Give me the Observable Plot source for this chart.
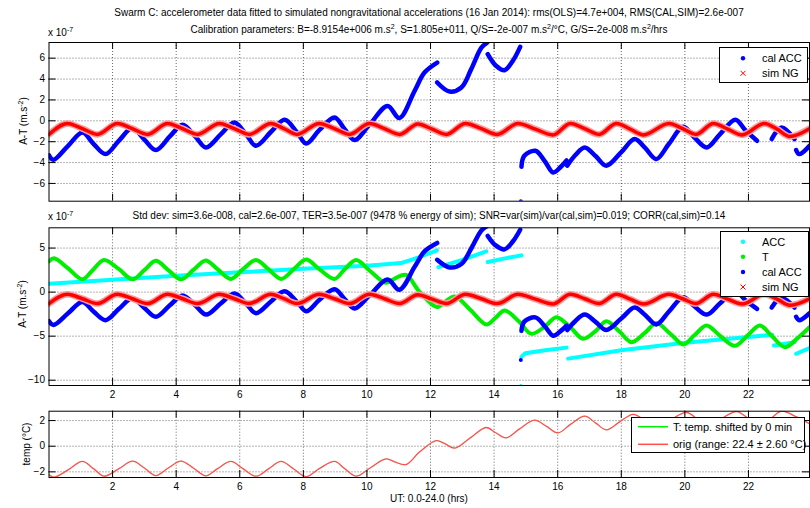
<!DOCTYPE html>
<html><head><meta charset="utf-8">
<script src="https://cdn.jsdelivr.net/npm/d3@7"></script>
<script src="https://cdn.jsdelivr.net/npm/@observablehq/plot@0.6"></script>
<style>
body{margin:0;background:#fff;}
#c{position:relative;width:810px;height:508px;background:#fff;overflow:hidden;}
#c svg{position:absolute;left:0;top:0;}
</style></head><body><div id="c"></div>
<script>
// ---------- tick labels ----------
const xTicks = [2,4,6,8,10,12,14,16,18,20,22];
const yTicksTop = [-6,-4,-2,0,2,4,6];
const yTicksMid = [-10,-5,0,5];
const yTicksBot = [-2,0,2];

// ---------- cal ACC (units 1e-7 m.s^-2) ----------
const calT = [0,0.14,0.6,1.05,1.4,1.78,2.2,2.62,3.0,3.36,3.8,4.2,4.6,4.94,5.4,5.83,6.2,6.51,7.0,7.41,7.8,8.09,8.5,8.98,9.3,9.61,10.1,10.65,11.02,11.5,11.81,12.21,
  12.21,12.6,12.97,13.28,13.6,13.78,
  13.8,14.05,14.33,14.6,14.82,
  14.86,14.95,15.3,15.6,15.86,16.1,16.28,
  16.3,16.55,16.85,17.2,17.53,18.0,18.42,18.75,19.1,19.5,19.95,20.3,20.69,21.1,21.59,21.9,22.27,
  22.73,23.04,23.45,
  23.5,23.6,23.92];
const calV = [-3.3,-3.73,-2.4,-1.12,-2.2,-3.19,-1.9,-0.7,-1.8,-2.8,-1.5,-0.38,-1.5,-2.55,-1.3,-0.16,-1.3,-2.39,-1.0,0.1,-1.1,-2.17,-0.9,0.32,-0.8,-1.85,-0.3,1.43,0.26,2.87,4.62,5.58,
  3.67,2.8,3.19,4.95,7.0,7.49,
  6.38,5.3,4.85,5.8,7.08,
  -4.4,-3.35,-2.87,-3.9,-4.95,-4.4,-3.8,
  -4.3,-3.3,-2.55,-3.4,-4.3,-3.0,-1.75,-2.6,-3.67,-2.2,-0.57,-1.6,-2.55,-1.3,0.1,-0.9,-1.91,
  -1.75,-0.64,-1.75,
  -2.8,-3.19,-2.4];
const calSeg = [0,0,0,0,0,0,0,0,0,0,0,0,0,0,0,0,0,0,0,0,0,0,0,0,0,0,0,0,0,0,0,0,
  1,1,1,1,1,1, 2,2,2,2,2, 3,3,3,3,3,3,3,
  4,4,4,4,4,4,4,4,4,4,4,4,4,4,4,4,4, 5,5,5, 6,6,6];
const calOutT = [14.84], calOutV = [-7.7];

// ---------- sim NG ----------
const simT = [0,0.58,1.05,1.52,2.15,2.62,3.1,3.73,4.2,4.67,5.36,5.83,6.3,6.98,7.39,7.8,8.5,8.98,9.45,10.08,10.55,11.03,11.6,12.05,12.5,13.1,13.6,14.1,14.75,15.3,15.85,16.4,16.85,17.3,17.85,18.28,18.7,19.5,19.93,20.35,20.9,21.35,21.8,22.5,22.9,23.3,23.92];
const simV = [-1.3,-0.25,-0.75,-1.3,-0.25,-0.75,-1.3,-0.25,-0.75,-1.3,-0.25,-0.75,-1.3,-0.25,-0.75,-1.3,-0.25,-0.75,-1.3,-0.25,-0.75,-1.3,-0.3,-0.8,-1.3,-0.25,-0.75,-1.3,-0.25,-0.8,-1.35,-0.25,-0.75,-1.3,-0.25,-0.8,-1.35,-0.25,-0.75,-1.3,-0.25,-0.8,-1.35,-0.25,-0.8,-1.5,-0.75];

// ---------- ACC (cyan) ----------
const accT = [0,2,4,6,8,10,11.07,11.6,12.2, 12.25,13.0,13.75, 13.8,14.3,14.86, 14.86,14.98,15.6,16.28, 16.33,18,20,22,22.75, 22.8,23.45, 23.5,23.92];
const accV = [0.95,1.4,1.85,2.25,2.65,3.0,3.3,3.9,4.75, 2.84,3.65,4.62, 3.41,3.8,4.17, -7.35,-6.95,-6.6,-6.3, -7.55,-6.6,-5.75,-5.1,-4.85, -6.05,-5.7, -7.0,-6.35];
const accSeg = [0,0,0,0,0,0,0,0,0, 1,1,1, 2,2,2, 3,3,3,3, 4,4,4,4,4, 5,5, 6,6];
const accOutT = [14.84], accOutV = [-10.6];

// ---------- T (green, units 1e-7) ----------
const tT = [0,0.16,0.6,1.05,1.4,1.73,2.2,2.63,3.0,3.36,3.75,4.15,4.55,4.93,5.3,5.72,6.1,6.51,6.9,7.3,7.7,8.09,8.5,8.98,9.3,9.66,10.1,10.6,10.9,11.23,11.65,12.2,12.45,12.76,13.25,13.76,14.05,14.33,14.8,15.17,15.6,15.96,16.4,16.8,17.2,17.53,17.95,18.32,18.75,19.1,19.55,19.95,20.3,20.68,21.1,21.57,21.95,22.36,22.75,23.15,23.55,23.92];
const tV = [3.5,3.85,2.7,1.45,2.6,3.65,2.6,1.45,2.5,3.55,2.5,1.45,2.55,3.6,2.6,1.5,2.6,3.65,2.6,1.5,2.6,3.7,2.6,1.5,2.6,3.65,2.4,1.05,1.6,1.95,0.05,-1.7,-1.1,-0.49,-2.0,-3.67,-2.9,-2.08,-3.4,-4.73,-3.9,-2.84,-4.0,-5.3,-4.4,-3.3,-4.5,-5.68,-4.6,-3.52,-4.75,-5.94,-4.9,-3.78,-4.95,-6.1,-5.0,-3.8,-5.05,-6.25,-5.2,-3.98];

// ---------- temperature (deg C, relative to 22.4) ----------
const tempT = [0,0.16,0.6,1.05,1.4,1.73,2.2,2.63,3.0,3.36,3.75,4.15,4.55,4.93,5.3,5.72,6.1,6.51,6.9,7.3,7.7,8.09,8.5,8.98,9.3,9.66,10.1,10.6,10.9,11.23,11.65,12.18,12.45,12.76,13.25,13.75,14.05,14.38,14.8,15.27,15.65,16.01,16.4,16.85,17.2,17.53,17.95,18.37,18.75,19.1,19.55,20.05,20.4,20.75,21.15,21.63,22.0,22.35,22.7,23.04,23.5,23.92];
const tempV = [-2.23,-2.42,-1.85,-1.19,-1.75,-2.34,-1.75,-1.17,-1.7,-2.29,-1.7,-1.17,-1.72,-2.31,-1.75,-1.19,-1.75,-2.34,-1.77,-1.19,-1.78,-2.37,-1.75,-1.19,-1.75,-2.34,-1.7,-0.99,-1.25,-1.43,-0.46,0.44,0.2,-0.15,0.65,1.46,1.05,0.65,1.35,2.03,1.55,1.04,1.7,2.34,1.8,1.28,1.9,2.49,2.0,1.45,2.05,2.63,2.1,1.5,2.15,2.7,2.15,1.55,2.15,2.73,2.3,1.74];

// ---------- build tables ----------
const zip = (T, V, S) => T.map((t, i) => ({t, v: V[i], s: S ? S[i] : 0}));
const cal = zip(calT, calV, calSeg);
const calOut = zip(calOutT, calOutV);
const sim = zip(simT, simV);
const acc = zip(accT, accV, accSeg);
const accOut = zip(accOutT, accOutV);
const tGreen = zip(tT, tV);
const temp = zip(tempT, tempV);

const W = 810, H = 508, ML = 48.5, MR = 1;
const XD = [0, 23.92];
const FONT = "Liberation Sans, Arial, Helvetica, sans-serif";
const BLUE = "#0000ff", RED = "#ff0000", PINK = "#ff9a9a", CYAN = "#00ffff", GREEN = "#00ee00", TEMPRED = "#ff5050";

function panel({top, bottom, yDomain, yTicks, showX, marks}) {
  const ph = H - top - bottom, pw = W - ML - MR;
  const m = [
    Plot.gridX(xTicks, {stroke: "#000", strokeOpacity: 0.6, strokeDasharray: "1,2"}),
    Plot.gridY(yTicks, {stroke: "#000", strokeOpacity: 0.6, strokeDasharray: "1,2"}),
    ...marks,
    Plot.tickX(xTicks, {x: d => d, insetBottom: ph - 7, stroke: "#000"}),
    Plot.tickX(xTicks, {x: d => d, insetTop: ph - 7, stroke: "#000"}),
    Plot.tickY(yTicks, {y: d => d, insetRight: pw - 7, stroke: "#000"}),
    Plot.tickY(yTicks, {y: d => d, insetLeft: pw - 7, stroke: "#000"}),
    Plot.frame({stroke: "#000"}),
    Plot.axisY(yTicks, {tickSize: 0, tickPadding: 4, label: null, fontSize: 10})
  ];
  if (showX) m.push(Plot.axisX(xTicks, {tickSize: 0, tickPadding: 5, label: null, fontSize: 10}));
  return Plot.plot({
    width: W, height: H, marginLeft: ML, marginRight: MR, marginTop: top, marginBottom: bottom,
    x: {domain: XD, axis: showX ? undefined : null},
    y: {domain: yDomain},
    style: {background: "none", fontFamily: FONT, fontSize: "10px", color: "#000", overflow: "visible"},
    marks: m
  });
}

const calMarks = [
  Plot.line(cal, {x: "t", y: "v", z: "s", stroke: BLUE, strokeWidth: 4.5, curve: "catmull-rom", clip: true}),
  Plot.dot(calOut, {x: "t", y: "v", r: 2, fill: BLUE, clip: true})
];
const simMarks = [
  Plot.line(sim, {x: "t", y: "v", stroke: PINK, strokeWidth: 6.5, curve: "monotone-x", clip: true}),
  Plot.line(sim, {x: "t", y: "v", stroke: RED, strokeWidth: 3.5, curve: "monotone-x", clip: true})
];

const p1 = panel({top: 42, bottom: H - 200.7, yDomain: [-7.7, 7.5], yTicks: yTicksTop, showX: false,
  marks: [...calMarks, ...simMarks]});
const p2 = panel({top: 227.3, bottom: H - 385, yDomain: [-10.6, 7.3], yTicks: yTicksMid, showX: true,
  marks: [
    Plot.line(acc, {x: "t", y: "v", z: "s", stroke: CYAN, strokeWidth: 4, clip: true}),
    Plot.dot(accOut, {x: "t", y: "v", r: 1.5, fill: CYAN, clip: true}),
    Plot.line(tGreen, {x: "t", y: "v", stroke: GREEN, strokeWidth: 4, curve: "catmull-rom", clip: true}),
    ...calMarks, ...simMarks]});
const p3 = panel({top: 410.7, bottom: H - 477, yDomain: [-2.44, 2.73], yTicks: yTicksBot, showX: true,
  marks: [
    Plot.line(temp, {x: "t", y: "v", stroke: GREEN, strokeWidth: 0.4, curve: "catmull-rom", clip: true}),
    Plot.line(temp, {x: "t", y: "v", stroke: TEMPRED, strokeWidth: 1.3, curve: "catmull-rom", clip: true})
  ]});

const c = document.getElementById("c");
c.append(p1, p2, p3);

// ---------- annotations (titles, labels, legends) ----------
const svg = d3.select(c).append("svg").attr("width", W).attr("height", H)
  .style("font-family", FONT).style("overflow", "visible");

function rich(x, y, parts, {size = 10, anchor = "middle", rotate = 0} = {}) {
  const t = svg.append("text").attr("font-size", size).attr("text-anchor", anchor).attr("fill", "#000")
    .attr("transform", `translate(${x},${y})${rotate ? ` rotate(${rotate})` : ""}`);
  let up = false;
  for (const p of parts) {
    const sup = Array.isArray(p);
    const s = t.append("tspan").text(sup ? p[0] : p);
    if (sup && !up) { s.attr("dy", -4).attr("font-size", size * 0.7); up = true; }
    else if (sup) { s.attr("font-size", size * 0.7); }
    else if (up) { s.attr("dy", 4); up = false; }
  }
  return t;
}

rich(429, 15.5, ["Swarm C: accelerometer data fitted to simulated nongravitational accelerations (16 Jan 2014): rms(OLS)=4.7e+004, RMS(CAL,SIM)=2.6e-007"]);
rich(429, 32.5, ["Calibration parameters: B=-8.9154e+006 m.s", ["2"], ", S=1.805e+011, Q/S=-2e-007 m.s", ["2"], "/°C, G/S=-2e-008 m.s", ["2"], "/hrs"]);
rich(48, 35.5, ["x 10", ["-7"]], {anchor: "start"});
rich(429, 218.5, ["Std dev: sim=3.6e-008, cal=2.6e-007, TER=3.5e-007 (9478 % energy of sim); SNR=var(sim)/var(cal,sim)=0.019; CORR(cal,sim)=0.14"]);
rich(48, 219.5, ["x 10", ["-7"]], {anchor: "start"});
rich(27, 121, ["A-T (m.s", ["-2"], ")"], {rotate: -90});
rich(26, 304, ["A-T (m.s", ["-2"], ")"], {rotate: -90});
rich(30, 444, ["temp (°C)"], {rotate: -90});
rich(429, 501.5, ["UT: 0.0-24.0 (hrs)"]);

function legend(x, y, w, h, items, markX, textX, lineX2) {
  svg.append("rect").attr("x", x).attr("y", y).attr("width", w).attr("height", h)
    .attr("fill", "#fff").attr("stroke", "#000").attr("stroke-width", 1);
  for (const it of items) {
    if (it.type === "dot") {
      svg.append("circle").attr("cx", markX).attr("cy", it.y).attr("r", 2.2).attr("fill", it.color);
    } else if (it.type === "x") {
      const s = 2.5;
      svg.append("path").attr("d", `M${markX - s},${it.y - s}L${markX + s},${it.y + s}M${markX - s},${it.y + s}L${markX + s},${it.y - s}`)
        .attr("stroke", it.color).attr("stroke-width", 1).attr("fill", "none");
    } else {
      svg.append("line").attr("x1", markX).attr("x2", lineX2).attr("y1", it.y).attr("y2", it.y)
        .attr("stroke", it.color).attr("stroke-width", 1.5);
    }
    svg.append("text").attr("x", textX).attr("y", it.y + 4).attr("font-size", 11).attr("fill", "#000").text(it.label);
  }
}
legend(719.5, 47.5, 88, 35, [
  {type: "dot", color: BLUE, label: "cal ACC", y: 58.3},
  {type: "x", color: RED, label: "sim NG", y: 73.3}], 743, 762);
legend(720.5, 231.5, 88, 65, [
  {type: "dot", color: CYAN, label: "ACC", y: 241.7},
  {type: "dot", color: GREEN, label: "T", y: 256.7},
  {type: "dot", color: BLUE, label: "cal ACC", y: 272},
  {type: "x", color: RED, label: "sim NG", y: 287}], 743, 762);
legend(631.5, 417.5, 173, 35, [
  {type: "line", color: GREEN, label: "T: temp. shifted by 0 min", y: 426.7},
  {type: "line", color: TEMPRED, label: "orig (range: 22.4 ± 2.60 °C)", y: 444.3}], 638, 673, 668);
</script></body></html>
